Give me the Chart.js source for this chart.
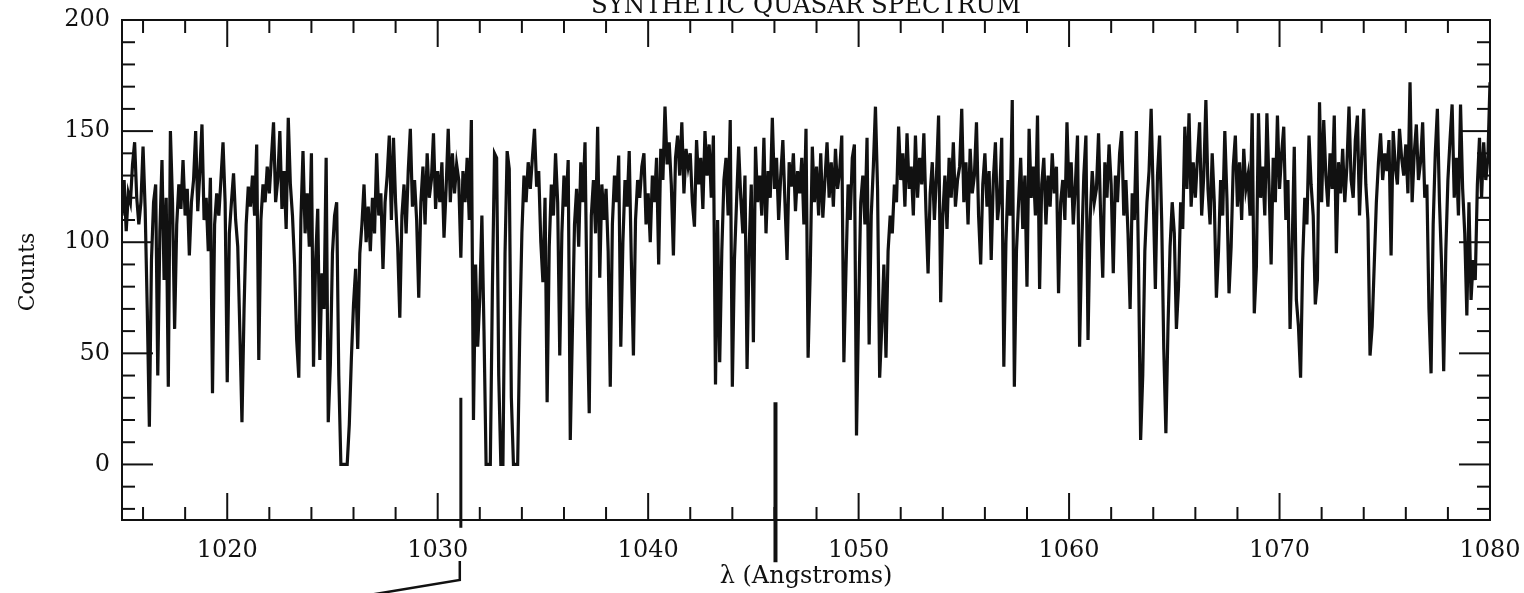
<!DOCTYPE html>
<html><head><meta charset="utf-8">
<script src="https://cdn.jsdelivr.net/npm/chart.js@4/dist/chart.umd.min.js"></script>
<style>html,body{margin:0;padding:0;background:#fff}#wrap{width:1524px;height:593px;position:relative}</style>
</head><body><div id="wrap"><canvas id="c"></canvas></div>
<script>
// ---- data (0.1 Å sampling) ----
const lambdaStart = 1015.0;
const lambdaStep = 0.1;
const counts1015 = [
112,128,105,122,118,135,145,120,108,118,
143,115,70,17,92,118,126,40,105,137,
83,120,35,150,118,61,108,126,115,137,
112,124,94,118,128,150,114,132,153,110,
120,96,129,32,108,122,112,128,145,118,
37,104,118,131,110,98,60,19,70,108,
125,116,130,112,144,47,110,126,118,134,
122,138,154,118,128,150,115,132,106,156,
126,112,90,56,39,110,141,104,122,98,
140,44,92,115,47,86,70,138,19,45];
const counts1025 = [
95,112,118,40,0,0,0,0,18,48,
72,88,52,95,108,126,100,116,96,120,
104,140,112,122,88,118,130,148,110,147,
118,98,66,112,126,104,132,151,116,128,
110,75,118,134,108,140,120,128,149,115,
132,118,136,102,124,151,118,140,122,135,
128,93,132,118,138,110,155,20,90,53,
75,112,60,0,0,0,80,140,138,40,
0,0,95,141,133,30,0,0,0,60,
104,130,118,136,124,138,151,125,132,100];
const counts1035 = [
82,120,28,98,126,112,140,118,49,104,
130,116,137,11,60,108,124,98,136,118,
145,70,23,112,128,104,152,84,126,110,
124,96,35,108,130,118,139,53,100,128,
116,141,92,49,110,128,120,134,140,108,
122,100,130,118,138,90,142,128,161,135,
145,126,94,138,148,130,154,122,142,134,
140,118,107,146,126,138,115,150,130,144,
120,148,36,110,46,96,128,138,112,155,
35,92,118,143,120,104,130,43,98,126];
const counts1045 = [
55,143,118,130,112,147,104,132,120,156,
124,138,110,130,146,118,92,136,125,140,
114,132,122,138,108,151,48,87,143,118,
134,112,140,111,128,145,120,136,116,142,
124,132,148,46,88,126,110,138,144,13,
70,118,130,108,147,54,112,134,161,124,
39,62,90,48,96,112,104,126,118,152,
128,140,116,149,124,134,112,148,120,138,
126,149,114,86,122,136,110,130,157,73,
112,130,106,138,120,145,116,128,134,160];
const counts1055 = [
118,136,108,142,122,130,154,112,90,126,
140,116,132,92,128,145,110,120,147,44,
100,128,112,164,35,96,118,138,106,130,
80,151,120,134,112,157,79,126,138,108,
130,116,140,122,134,77,118,128,110,154,
120,136,108,126,148,53,98,130,148,56,
110,132,118,124,149,112,84,136,120,144,
126,86,130,118,140,150,112,128,104,70,
122,110,150,90,11,40,96,118,132,160,
120,79,130,148,110,52,14,62,98,118];
const counts1065 = [
104,61,80,118,106,152,124,158,116,136,
120,138,154,112,130,164,124,108,140,118,
75,96,128,112,150,120,77,98,134,148,
116,136,110,142,124,130,112,158,68,89,
158,120,134,112,158,126,90,138,118,157,
124,140,152,110,128,61,98,143,74,62,
39,92,120,108,148,126,112,72,83,163,
118,155,130,116,140,124,157,95,136,122,
142,118,134,161,128,120,146,157,112,138,
160,126,110,49,62,90,118,136,149,128];
const counts1075 = [
140,132,146,94,150,134,126,151,138,130,
144,122,172,118,140,153,128,136,154,120,
126,70,41,108,140,160,118,90,42,96,
128,146,162,120,138,112,162,124,104,67,
118,74,92,83,126,147,120,145,128,138,
172];

const xMajorTicks = [1020,1030,1040,1050,1060,1070,1080];
const xMinorTicks = [1016,1018,1022,1024,1026,1028,1032,1034,1036,1038,1042,1044,1046,1048,1052,1054,1056,1058,1062,1064,1066,1068,1072,1074,1076,1078];
const yMajorTicks = [0,50,100,150,200];
const yMinorTicks = [-20,-10,10,20,30,40,60,70,80,90,110,120,130,140,160,170,180,190];
const xLimits = [1015,1080];
const yLimits = [-25,200];
const chartTitle = 'SYNTHETIC QUASAR SPECTRUM';
const xTitle = 'λ (Angstroms)';
const yTitle = 'Counts';
// pen marks on the figure, in data units: [x, y] polylines
const markA = [[1031.1,30],[1031.1,-28.5]];
const markA2 = [[1031.05,-43.5],[1031.05,-52],[1026.9,-58.5]];
const markB = [[1046.05,28],[1046.05,-44]];

const counts = [].concat(counts1015,counts1025,counts1035,counts1045,counts1055,counts1065,counts1075);
const points = counts.map((c,i)=>({x: +(lambdaStart + i*lambdaStep).toFixed(2), y: c}));

const serif = '"DejaVu Serif", "Liberation Serif", serif';
const ink = '#111';

const frame = {
  id:'frame',
  afterDraw(chart){
    const {ctx, chartArea:a, scales:{x,y}} = chart;
    ctx.save();
    ctx.strokeStyle = ink; ctx.lineWidth = 2; ctx.lineCap='butt';
    ctx.strokeRect(a.left, a.top, a.right-a.left, a.bottom-a.top);
    const seg=(x1,y1,x2,y2)=>{ctx.beginPath();ctx.moveTo(x1,y1);ctx.lineTo(x2,y2);ctx.stroke();};
    const MAJ=27, MIN=13;
    xMajorTicks.concat(xMinorTicks).forEach(v=>{
      const L = xMajorTicks.includes(v)?MAJ:MIN, p = x.getPixelForValue(v);
      seg(p,a.bottom,p,a.bottom-L); seg(p,a.top,p,a.top+L);
    });
    yMajorTicks.concat(yMinorTicks).forEach(v=>{
      const L = yMajorTicks.includes(v)?MAJ+4:MIN, p = y.getPixelForValue(v);
      seg(a.left,p,a.left+L,p); seg(a.right,p,a.right-L,p);
    });
    // pen marks
    const poly=(pts,w)=>{ctx.lineWidth=w;ctx.beginPath();pts.forEach(([vx,vy],i)=>{const px=x.getPixelForValue(vx),py=y.getPixelForValue(vy); i?ctx.lineTo(px,py):ctx.moveTo(px,py);});ctx.stroke();};
    poly(markA,3); poly(markA2,2.5); poly(markB,4);
    // texts
    ctx.fillStyle = ink;
    ctx.textAlign='center'; ctx.textBaseline='alphabetic';
    ctx.font = '26px '+serif;
    ctx.fillText(chartTitle, (a.left+a.right)/2, 13, 430);
    ctx.textBaseline='middle';
    ctx.font = '24px '+serif;
    ctx.fillText(xTitle, (a.left+a.right)/2, 577);
    ctx.translate(28, 272); ctx.rotate(-Math.PI/2);
    ctx.font = '22px '+serif;
    ctx.fillText(yTitle, 0, 0);
    ctx.restore();
  }
};

new Chart(document.getElementById('c'), {
  type:'line',
  data:{datasets:[{data:points, borderColor:ink, borderWidth:3.2, pointRadius:0, tension:0, fill:false, borderJoinStyle:'miter'}]},
  options:{
    responsive:true, maintainAspectRatio:false, animation:false,
    layout:{padding:{top:20,right:34,left:0,bottom:0}},
    plugins:{legend:{display:false}, tooltip:{enabled:false}, title:{display:false}},
    scales:{
      x:{type:'linear', min:xLimits[0], max:xLimits[1],
         grid:{display:false, drawTicks:false}, border:{display:false},
         ticks:{stepSize:10, autoSkip:false, maxRotation:0, padding:16, color:ink, font:{family:serif,size:24},
                callback:v=> xMajorTicks.includes(v)? String(v) : ''},
         afterFit(s){s.height=73; s.paddingLeft=0; s.paddingRight=0;}},
      y:{min:yLimits[0], max:yLimits[1],
         grid:{display:false, drawTicks:false}, border:{display:false},
         ticks:{stepSize:50, autoSkip:false, padding:12, color:ink, font:{family:serif,size:24},
                callback:v=> yMajorTicks.includes(v)? String(v) : ''},
         afterFit(s){s.width=122; s.paddingTop=0; s.paddingBottom=0;}}
    }
  },
  plugins:[frame]
});
</script></body></html>
